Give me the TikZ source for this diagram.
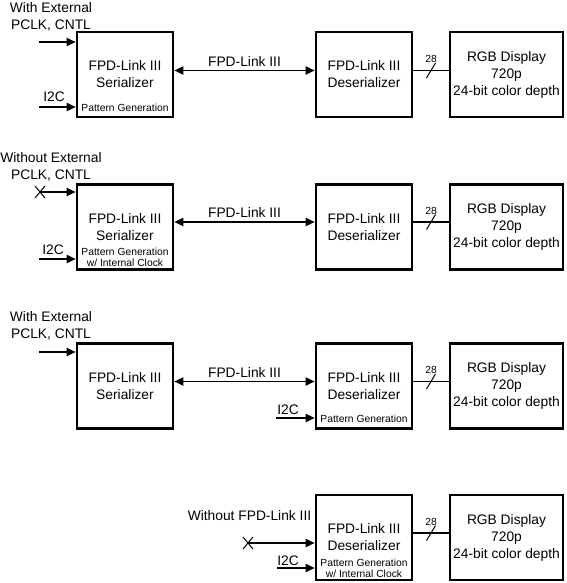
\documentclass[tikz,border=0pt]{standalone}
\usepackage{fontspec}
\setmainfont{Liberation Sans}
\usetikzlibrary{arrows.meta}

\begin{document}
\begin{tikzpicture}[x=1pt, y=-1pt, font=\fontsize{13.8}{17}\selectfont,
    blk/.style={draw, line width=2.6pt, minimum width=96pt, minimum height=85pt, align=center, inner sep=0pt},
    dispblk/.style={blk, minimum width=113pt},
    small/.style={font=\fontsize{10.3}{11.2}\selectfont, align=center, inner sep=0pt},
    sig/.style={line width=1.8pt, -{Triangle[length=9pt, width=8pt]}},
    link/.style={line width=1.8pt, {Triangle[length=9pt, width=8pt]}-{Triangle[length=9pt, width=8pt]}},
    bus/.style={line width=1.8pt},
    thinline/.style={line width=1pt}]

\useasboundingbox (0,0) rectangle (566,583);

% row 1 ---
\node [blk] (ser1) at (125,74.5) {FPD-Link III \\ Serializer};
\node [blk] (des1) at (364,74.5) {FPD-Link III \\ Deserializer};
\node [dispblk] (rgb1) at (506.5,74.5) {RGB Display \\ 720p \\ 24-bit color depth};
\node [small] (pg1) at (125,108) {Pattern Generation};

\node [align=center] (ext1) at (51,16.5) {With External \\ PCLK, CNTL};
\node (ic1) at (54,97) {I2C};
\coordinate (in1) at (39,42);
\coordinate (ia1) at (39,107);
\draw [sig] (in1) -- (ser1.west |- in1);
\draw [sig] (ia1) -- (ser1.west |- ia1);

\draw [link] ([yshift=4pt]ser1.east) -- node [above] (fl1) {FPD-Link III} ([yshift=4pt]des1.west);
\draw [bus] ([yshift=4pt]des1.east) -- coordinate (m1) node [small, above=7pt] (n1) {28} ([yshift=4pt]rgb1.west);
\draw [thinline] (m1) +(-4.5,7.5) -- +(4.5,-7.5);

% row 2 ---
\node [blk] (ser2) at (125,227) {FPD-Link III \\ Serializer};
\node [blk] (des2) at (364,227) {FPD-Link III \\ Deserializer};
\node [dispblk] (rgb2) at (506.5,227) {RGB Display \\ 720p \\ 24-bit color depth};
\node [small] (pg2) at (125,257) {Pattern Generation \\ w/ Internal Clock};

\node [align=center] (ext2) at (51,167) {Without External \\ PCLK, CNTL};
\node (ic2) at (53,250) {I2C};
\coordinate (in2) at (40,192);
\coordinate (ia2) at (39,259);
\draw [sig] (in2) -- (ser2.west |- in2);
\draw [thinline] (in2) +(-5,-6) -- +(5,6) (in2) +(-5,6) -- +(5,-6);
\draw [sig] (ia2) -- (ser2.west |- ia2);

\draw [link] ([yshift=5pt]ser2.east) -- node [above] (fl2) {FPD-Link III} ([yshift=5pt]des2.west);
\draw [bus] ([yshift=5pt]des2.east) -- coordinate (m2) node [small, above=7pt] (n2) {28} ([yshift=5pt]rgb2.west);
\draw [thinline] (m2) +(-4.5,7.5) -- +(4.5,-7.5);

% row 3 ---
\node [blk] (ser3) at (125,386) {FPD-Link III \\ Serializer};
\node [blk] (des3) at (364,386) {FPD-Link III \\ Deserializer};
\node [dispblk] (rgb3) at (506.5,386) {RGB Display \\ 720p \\ 24-bit color depth};
\node [small] (pg3) at (364,419) {Pattern Generation};

\node [align=center] (ext3) at (51,326) {With External \\ PCLK, CNTL};
\node (ic3) at (288,410) {I2C};
\coordinate (in3) at (39,352);
\coordinate (ia3) at (276,418);
\draw [sig] (in3) -- (ser3.west |- in3);
\draw [sig] (ia3) -- (des3.west |- ia3);

\draw [link] ([yshift=4.5pt]ser3.east) -- node [above] (fl3) {FPD-Link III} ([yshift=4.5pt]des3.west);
\draw [bus] ([yshift=4.5pt]des3.east) -- coordinate (m3) node [small, above=7pt] (n3) {28} ([yshift=4.5pt]rgb3.west);
\draw [thinline] (m3) +(-4.5,7.5) -- +(4.5,-7.5);

% row 4 ---
\node [blk] (des4) at (364,537.5) {FPD-Link III \\ Deserializer};
\node [dispblk] (rgb4) at (506.5,537.5) {RGB Display \\ 720p \\ 24-bit color depth};
\node [small] (pg4) at (364,568) {Pattern Generation \\ w/ Internal Clock};

\node (wo4) at (249.5,516) {Without FPD-Link III};
\node (ic4) at (288,561) {I2C};
\coordinate (in4) at (248,543);
\coordinate (ia4) at (277,568);
\draw [sig] (in4) -- (des4.west |- in4);
\draw [thinline] (in4) +(-5,-6) -- +(5,6) (in4) +(-5,6) -- +(5,-6);
\draw [sig] (ia4) -- (des4.west |- ia4);

\draw [bus] ([yshift=4.5pt]des4.east) -- coordinate (m4) node [small, above=7pt] (n4) {28} ([yshift=4.5pt]rgb4.west);
\draw [thinline] (m4) +(-4.5,7.5) -- +(4.5,-7.5);

\end{tikzpicture}
\end{document}
